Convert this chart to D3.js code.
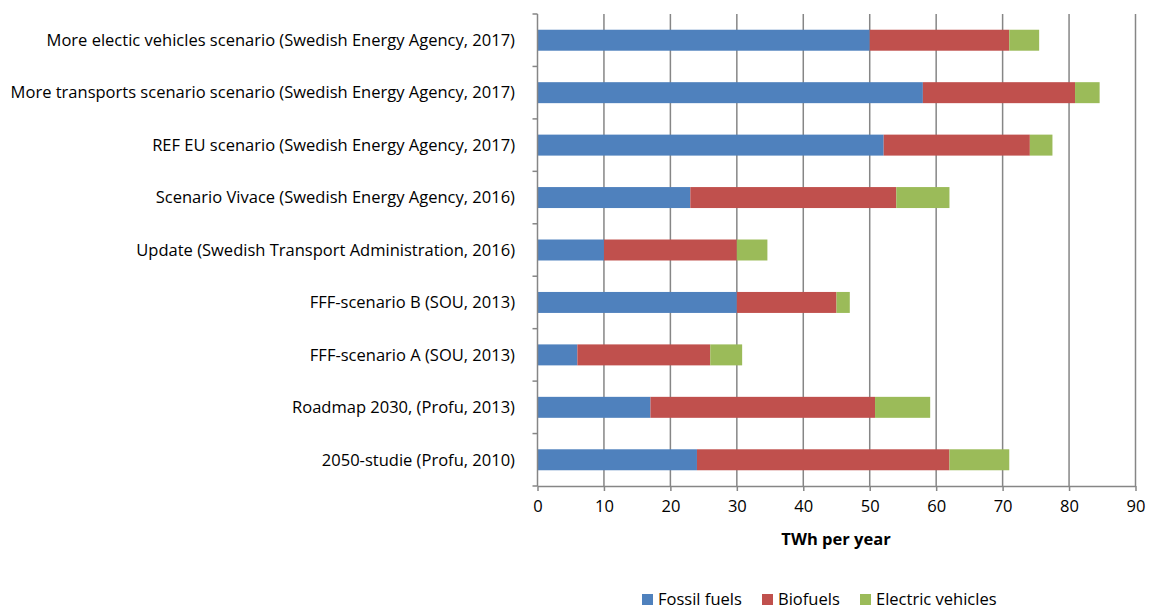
<!DOCTYPE html>
<html><head><meta charset="utf-8">
<script src="https://cdn.jsdelivr.net/npm/d3@7/dist/d3.min.js"></script>
<style>body{margin:0;background:#fff}svg{display:block}text{font-family:"Open Sans",sans-serif;fill:#000}</style>
</head><body><svg id="c" width="1151" height="610"></svg>
<script>
const categories = [
  "More electic vehicles scenario (Swedish Energy Agency, 2017)",
  "More transports scenario scenario (Swedish Energy Agency, 2017)",
  "REF EU scenario (Swedish Energy Agency, 2017)",
  "Scenario Vivace (Swedish Energy Agency, 2016)",
  "Update (Swedish Transport Administration, 2016)",
  "FFF-scenario B (SOU, 2013)",
  "FFF-scenario A (SOU, 2013)",
  "Roadmap 2030, (Profu, 2013)",
  "2050-studie (Profu, 2010)"
];
const fossil = [50, 58, 52.1, 23, 10, 30, 6, 17, 24];
const biofuels = [21, 22.9, 22, 31, 20, 15, 20, 33.8, 38];
const electric = [4.5, 3.7, 3.4, 8, 4.6, 2, 4.8, 8.3, 9];
const seriesNames = ["Fossil fuels", "Biofuels", "Electric vehicles"];
const xTicks = [0, 10, 20, 30, 40, 50, 60, 70, 80, 90];
const colors = ["#4F81BD", "#C0504D", "#9BBB59"];

(function(){
const svg = d3.select("#c");
const pL = 537.5, pR = 1135.5, pT = 14, pB = 486;
const x = d3.scaleLinear().domain([0, 90]).range([pL, pR]);
const y = d3.scaleBand().domain(categories).range([pT, pB]).paddingInner(0.6).paddingOuter(0.3);

const rows = categories.map((c, i) => ({cat: c, "Fossil fuels": fossil[i], "Biofuels": biofuels[i], "Electric vehicles": electric[i]}));
const stack = d3.stack().keys(seriesNames)(rows);

svg.append("g").selectAll("line").data(xTicks.slice(1)).join("line")
  .attr("x1", d => x(d)).attr("x2", d => x(d)).attr("y1", pT).attr("y2", pB)
  .attr("stroke", "#868686").attr("stroke-width", 1.5);

svg.append("g").selectAll("g").data(stack).join("g").attr("fill", (d, i) => colors[i])
  .selectAll("rect").data(d => d).join("rect")
  .attr("x", d => x(d[0])).attr("width", d => x(d[1]) - x(d[0]))
  .attr("y", d => y(d.data.cat)).attr("height", y.bandwidth());

svg.append("line").attr("x1", pL).attr("x2", pL).attr("y1", pT).attr("y2", pB).attr("stroke", "#868686").attr("stroke-width", 1.5);
const bounds = d3.range(categories.length + 1).map(i => pT + i * y.step());
svg.append("g").selectAll("line").data(bounds).join("line")
  .attr("x1", pL - 5).attr("x2", pL).attr("y1", d => d).attr("y2", d => d)
  .attr("stroke", "#868686").attr("stroke-width", 1.5);

const xa = svg.append("g").attr("transform", `translate(0,${pB})`)
  .call(d3.axisBottom(x).tickValues(xTicks).tickSize(5).tickSizeOuter(0).tickPadding(9));
xa.select(".domain").attr("stroke", "#868686").attr("stroke-width", 1.5);
xa.selectAll(".tick line").attr("stroke", "#868686").attr("stroke-width", 1.5);
xa.selectAll("text").style("font-family", "Open Sans, sans-serif").attr("fill", "#000");

const lab = svg.append("g").selectAll("text").data(categories).join("text")
  .attr("x", 515).attr("y", d => y(d) + y.bandwidth() / 2).attr("dy", "0.35em")
  .attr("text-anchor", "end").style("font-size", "15px").text(d => d);
let maxW = 0; lab.each(function(){ maxW = Math.max(maxW, this.getComputedTextLength()); });
const fs = 15 * 505 / maxW;
lab.style("font-size", fs + "px");
xa.selectAll("text").style("font-size", fs + "px");

svg.append("text").attr("x", 836).attr("y", 545).attr("text-anchor", "middle")
  .style("font-size", fs + "px").style("font-weight", "bold").text("TWh per year");

const legX = [642, 762, 860];
const lg = svg.append("g").selectAll("g").data(seriesNames).join("g")
  .attr("transform", (d, i) => `translate(${legX[i]},594)`);
lg.append("rect").attr("width", 11).attr("height", 11).attr("fill", (d, i) => colors[i]);
lg.append("text").attr("x", 16).attr("y", 5.5).attr("dy", "0.36em").style("font-size", fs + "px").text(d => d);
})();
</script></body></html>
